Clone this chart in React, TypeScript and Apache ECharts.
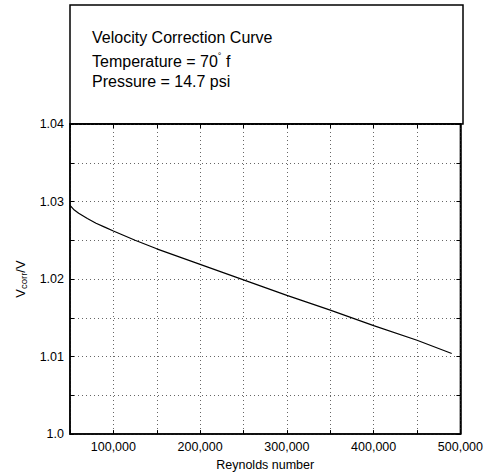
import React, { useEffect, useRef } from "react";
import * as echarts from "echarts";

const reynolds = [50000, 55000, 60000, 70000, 80000, 90000, 100000, 125000, 150000, 200000, 250000, 300000, 350000, 400000, 450000, 490000];
const vRatio = [1.0295, 1.0289, 1.0285, 1.0278, 1.0272, 1.0267, 1.0262, 1.0250, 1.0239, 1.0219, 1.0199, 1.0179, 1.0160, 1.0140, 1.0121, 1.0104];
const titleLines = ["Velocity Correction Curve", "Temperature = 70{sup|°} f", "Pressure = 14.7 psi"];
const xLabel = "Reynolds number";

const FONT = "Liberation Sans, Arial, Helvetica, sans-serif";

export default function App() {
  const ref = useRef<HTMLDivElement>(null);
  useEffect(() => {
    if (!ref.current) return;
    const chart = echarts.init(ref.current, null, { renderer: "svg" });
    const data = reynolds.map((x, i) => [x, vRatio[i]]);
    const dotted = { show: true, lineStyle: { color: "#666", type: [1, 3] as any, width: 1 } };
    const xFmt = (v: number) => (v % 100000 === 0 && v > 50000 ? v.toLocaleString("en-US") : "");
    const yFmt = (v: number) => {
      const k = Math.round(v * 1000);
      if (k % 10 !== 0) return "";
      return k === 1000 ? "1.0" : (k / 1000).toFixed(2);
    };
    chart.setOption({
      animation: false,
      textStyle: { fontFamily: FONT },
      grid: { left: 70, right: 23, top: 124, bottom: 38, show: true, borderColor: "#000", borderWidth: 1.5, backgroundColor: "transparent" },
      graphic: [
        { type: "rect", shape: { x: 70, y: 5, width: 393, height: 119 }, style: { fill: "none", stroke: "#000", lineWidth: 1.5 } },
        ...titleLines.map((t, i) => ({
          type: "text",
          left: 92,
          top: 29 + i * 22,
          style: {
            text: t,
            fontSize: 16,
            fontFamily: FONT,
            fill: "#000",
            rich: { sup: { fontSize: 9, padding: [0, 0, 11, 0], fontFamily: FONT, fill: "#000" } },
          },
        })),
      ],
      xAxis: [
        {
          type: "value", min: 50000, max: 500000, interval: 50000,
          axisLine: { show: true, lineStyle: { color: "#000", width: 1.5 } },
          axisTick: { show: true, inside: true, length: 4, lineStyle: { color: "#000" } },
          axisLabel: { formatter: xFmt, color: "#000", fontSize: 12.5, margin: 6, fontFamily: FONT, showMinLabel: true, showMaxLabel: true },
          splitLine: dotted,
          name: xLabel, nameLocation: "middle", nameGap: 22,
          nameTextStyle: { color: "#000", fontSize: 12.5, fontFamily: FONT },
        },
        {
          type: "value", position: "top", min: 50000, max: 500000, interval: 50000,
          axisLine: { show: true, lineStyle: { color: "#000", width: 1.5 } },
          axisTick: { show: true, inside: true, length: 4, lineStyle: { color: "#000" } },
          axisLabel: { show: false }, splitLine: { show: false },
        },
      ],
      yAxis: [
        {
          type: "value", min: 1.0, max: 1.04, interval: 0.005,
          axisLine: { show: true, lineStyle: { color: "#000", width: 1.5 } },
          axisTick: { show: true, inside: true, length: 4, lineStyle: { color: "#000" } },
          axisLabel: { formatter: yFmt, color: "#000", fontSize: 12.5, margin: 6, fontFamily: FONT },
          splitLine: dotted,
          name: "{a|V}{sub|corr}{a|/V}", nameLocation: "middle", nameGap: 40, nameRotate: 90,
          nameTextStyle: {
            color: "#000", fontFamily: FONT,
            rich: {
              a: { fontSize: 13, fontFamily: FONT, color: "#000" },
              sub: { fontSize: 9.5, fontFamily: FONT, color: "#000", padding: [0, 0, -6, 0] },
            },
          },
        },
        {
          type: "value", position: "right", min: 1.0, max: 1.04, interval: 0.005,
          axisLine: { show: true, lineStyle: { color: "#000", width: 1.5 } },
          axisTick: { show: true, inside: true, length: 4, lineStyle: { color: "#000" } },
          axisLabel: { show: false }, splitLine: { show: false },
        },
      ],
      series: [
        {
          type: "line", data, smooth: false, showSymbol: false,
          lineStyle: { color: "#000", width: 1.2 },
          xAxisIndex: 0, yAxisIndex: 0,
        },
      ],
    });
    return () => chart.dispose();
  }, []);
  return <div ref={ref} style={{ width: 486, height: 476, position: "absolute", left: 0, top: 0 }} />;
}
